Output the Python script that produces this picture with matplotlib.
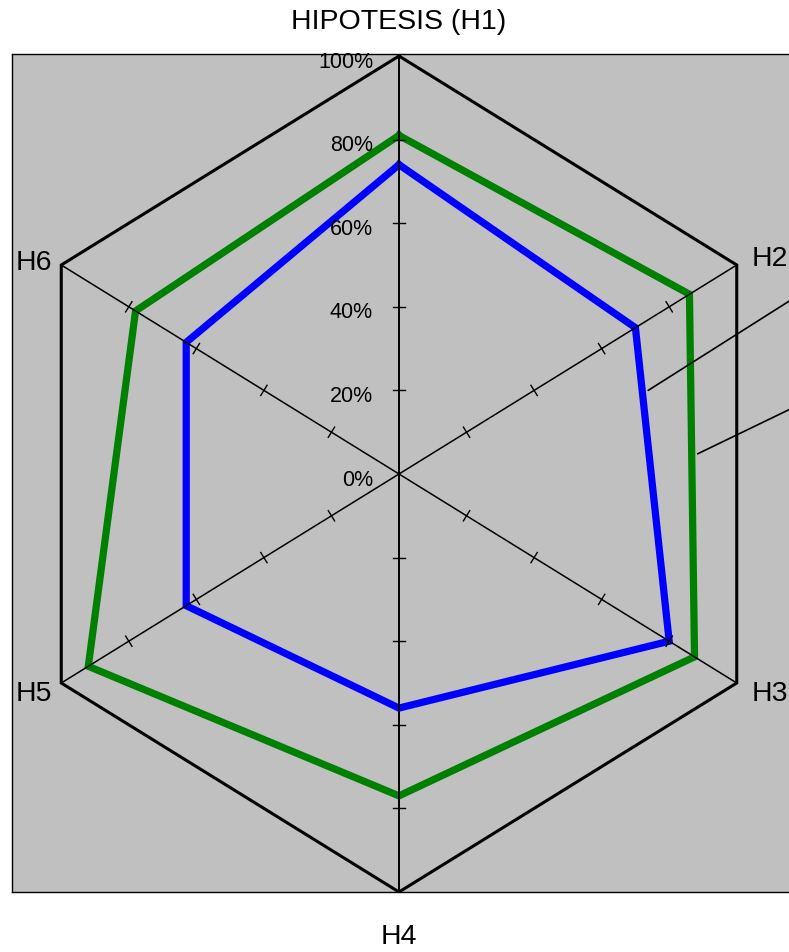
import numpy as np
import matplotlib.pyplot as plt

# categories and series values (fraction of 100%)
categories = ["HIPOTESIS (H1)", "H2", "H3", "H4", "H5", "H6"]
blue_vals = [0.74, 0.70, 0.80, 0.56, 0.63, 0.63]
green_vals = [0.81, 0.86, 0.875, 0.77, 0.92, 0.78]
tick_vals = [0.0, 0.2, 0.4, 0.6, 0.8, 1.0]
tick_labels = ["0%", "20%", "40%", "60%", "80%", "100%"]

plt.rcParams['font.family'] = ['Liberation Sans', 'DejaVu Sans']

W, H = 789, 953
fig = plt.figure(figsize=(W / 100, H / 100), dpi=100)

# plot area (gray box) runs past the right edge of the picture
left, right, top, bottom = 12, 820, 55, 893
cx, cy = 399, 475
R = 418.0
ax = fig.add_axes([left / W, 1 - bottom / H, (right - left) / W, (bottom - top) / H])
ax.set_xlim((left - cx) / R, (right - cx) / R)
ax.set_ylim(-(bottom - cy) / R, (cy - top) / R)
ax.set_facecolor('#c0c0c0')
ax.set_xticks([])
ax.set_yticks([])
for s in ax.spines.values():
    s.set_linewidth(1.0)
    s.set_color('black')

sx = 0.933  # horizontal squeeze of the hexagon
n = len(categories)
theta = np.arange(n) * 2 * np.pi / n


def to_xy(r, th):
    return r * np.sin(th) * sx, r * np.cos(th)


# series
for vals, col in [(blue_vals, '#0000ff'), (green_vals, '#008000')]:
    v = np.array(vals + vals[:1])
    th = np.append(theta, theta[0])
    x, y = to_xy(v, th)
    ax.plot(x, y, color=col, lw=5.2, solid_joinstyle='miter', zorder=3)

# outer hexagon
th = np.append(theta, theta[0])
x, y = to_xy(np.ones(n + 1), th)
ax.plot(x, y, color='black', lw=2.2, zorder=4, solid_joinstyle='miter')

# spokes and tick marks
half = 6 / R
for i, t in enumerate(theta):
    x1, y1 = to_xy(1.0, t)
    ax.plot([0, x1], [0, y1], color='black', lw=1.1 if i not in (0, 3) else 1.4, zorder=4)
    dx, dy = x1, y1
    L = np.hypot(dx, dy)
    px, py = -dy / L, dx / L
    for tv in tick_vals[1:-1]:
        tx, ty = to_xy(tv, t)
        ax.plot([tx - px * half, tx + px * half], [ty - py * half, ty + py * half],
                color='black', lw=1.0, zorder=4)

# value labels along the first axis
for tv, tl in zip(tick_vals, tick_labels):
    ax.annotate(tl, (0, tv), xytext=(-26, -5), textcoords='offset pixels',
                ha='right', va='center', fontsize=15.5, zorder=5)

# category labels
offsets = [((0, 35), 'center'), ((15, 7), 'left'), ((15, -10), 'left'),
           ((0, -44), 'center'), ((-9, -10), 'right'), ((-9, 3), 'right')]
for i, (c, t) in enumerate(zip(categories, theta)):
    (ox, oy), ha = offsets[i]
    ax.annotate(c, to_xy(1.0, t), xytext=(ox, oy), textcoords='offset pixels',
                ha=ha, va='center', fontsize=20.5, annotation_clip=False)

# leader lines to the (cut-off) series labels
for vals, frac, off in [(blue_vals, 0.2, (300, 190)), (green_vals, 0.44, (300, 145))]:
    p2 = np.array(to_xy(vals[1], theta[1]))
    p3 = np.array(to_xy(vals[2], theta[2]))
    p = p2 + frac * (p3 - p2)
    ax.annotate('', xy=(p[0] + 6 / R, p[1]), xytext=off, textcoords='offset pixels',
                arrowprops=dict(arrowstyle='-', lw=1.2, color='black',
                                shrinkA=0, shrinkB=0),
                annotation_clip=False, zorder=4)

fig.savefig('out.png', dpi=100)
